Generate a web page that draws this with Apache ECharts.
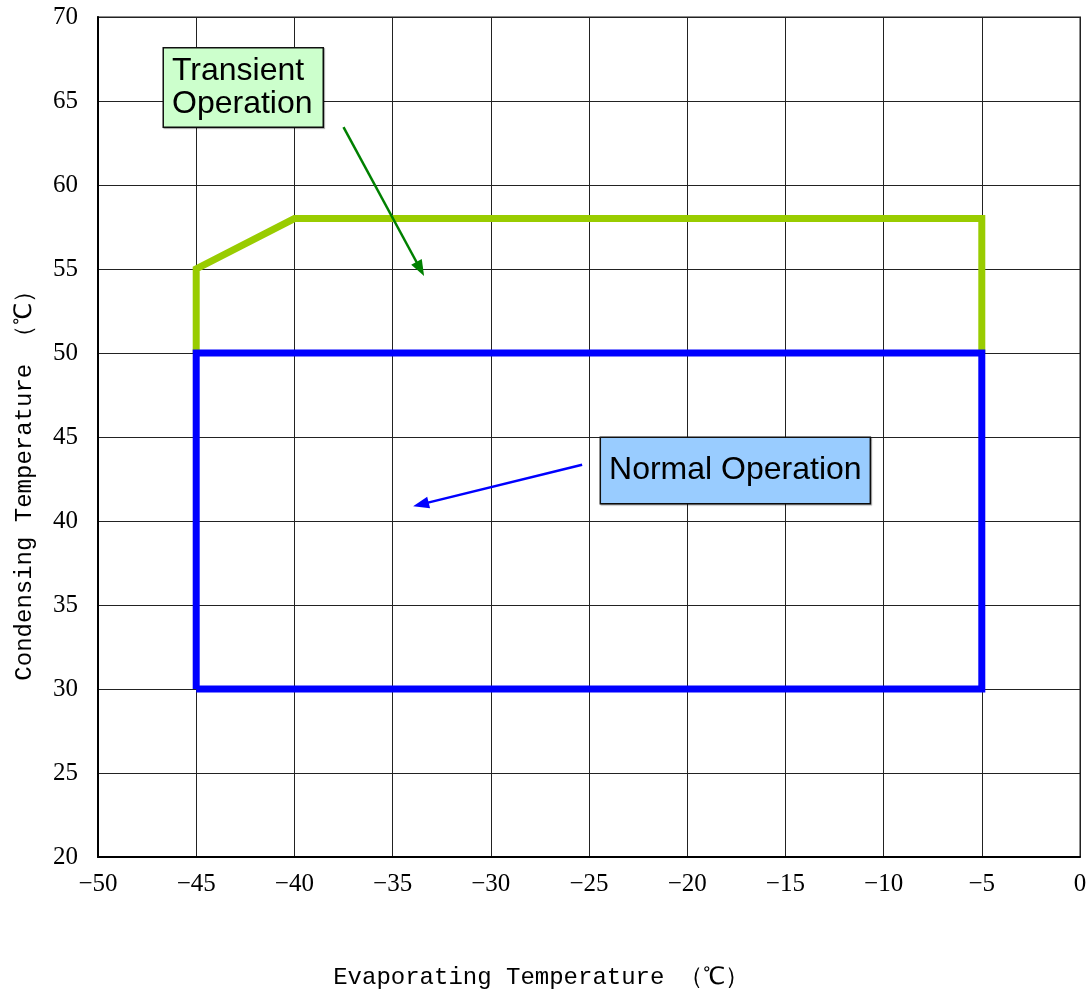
<!DOCTYPE html>
<html>
<head>
<meta charset="utf-8">
<script src="https://cdn.jsdelivr.net/npm/echarts@6/dist/echarts.min.js"></script>
<style>html,body{margin:0;padding:0;background:#fff}#c{width:1090px;height:993px}</style>
</head>
<body>
<div id="c"></div>
<script>
// Data
var xTicks = [-50, -45, -40, -35, -30, -25, -20, -15, -10, -5, 0];
var yTicks = [20, 25, 30, 35, 40, 45, 50, 55, 60, 65, 70];
var transientX = [-45, -45, -40, -5, -5];
var transientY = [50, 55, 58, 58, 50];
var normalX = [-45, -45, -5, -5, -45];
var normalY = [30, 50, 50, 30, 30];
var transientLabelPos = [-46.64, 65.8];
var normalLabelPos = [-17.55, 43.0];
var transientArrow = [[-37.5, 63.45], [-33.59, 55.0]];
var normalArrow = [[-25.35, 43.35], [-33.56, 40.99]];

function zip(xs, ys) { return xs.map(function (x, i) { return [x, ys[i]]; }); }

var chart = echarts.init(document.getElementById('c'), null, {renderer: 'canvas'});
chart.setOption({
  animation: false,
  backgroundColor: '#fff',
  grid: {left: 98, right: 10, top: 17, bottom: 136, containLabel: false, outerBoundsMode: 'none',
    show: true, borderColor: '#8c8c8c', borderWidth: 2, backgroundColor: 'transparent'},
  xAxis: {
    type: 'value', min: -50, max: 0, interval: 5,
    name: 'Evaporating Temperature （℃）', nameLocation: 'middle', nameGap: 109,
    nameTextStyle: {fontFamily: 'Liberation Mono', fontSize: 24, color: '#000', padding: [0, 96, 0, 0]},
    axisLine: {show: true, onZero: false, lineStyle: {color: '#000', width: 2}},
    axisTick: {show: false},
    axisLabel: {fontFamily: 'Liberation Serif', fontSize: 25, color: '#000', margin: 15,
      formatter: function (v) { return v < 0 ? '\u2212' + Math.abs(v) : String(v); }},
    splitLine: {show: true, lineStyle: {color: '#222', width: 1}}
  },
  yAxis: {
    type: 'value', min: 20, max: 70, interval: 5,
    name: 'Condensing Temperature （℃）', nameLocation: 'middle', nameGap: 61, nameRotate: 90,
    nameTextStyle: {fontFamily: 'Liberation Mono', fontSize: 24, color: '#000', padding: [0, 86, 0, 0]},
    axisLine: {show: true, onZero: false, lineStyle: {color: '#000', width: 2}},
    axisTick: {show: false},
    axisLabel: {fontFamily: 'Liberation Serif', fontSize: 25, color: '#000', margin: 20},
    splitLine: {show: true, lineStyle: {color: '#222', width: 1}}
  },
  series: [
    {
      type: 'line', data: zip(transientX, transientY), showSymbol: false, symbol: 'none',
      lineStyle: {color: '#99cc00', width: 7, join: 'miter'}, z: 3
    },
    {
      type: 'line', data: zip(normalX, normalY), showSymbol: false, symbol: 'none',
      lineStyle: {color: '#0000ff', width: 7, join: 'miter'}, z: 4
    },
    {
      type: 'line', data: [], z: 5,
      markLine: {
        silent: true, symbol: ['none', 'triangle'], symbolSize: [12, 16],
        label: {show: false},
        data: [
          [{coord: transientArrow[0], lineStyle: {color: '#008000', width: 2.5, type: 'solid'}, itemStyle: {color: '#008000'}}, {coord: transientArrow[1]}],
          [{coord: normalArrow[0], lineStyle: {color: '#0000ff', width: 2.5, type: 'solid'}, itemStyle: {color: '#0000ff'}}, {coord: normalArrow[1]}]
        ]
      }
    },
    {
      type: 'scatter', symbolSize: 0, z: 10, silent: true,
      itemStyle: {opacity: 1},
      data: [
        {value: transientLabelPos, label: {show: true, position: 'inside', formatter: 'Transient\nOperation', align: 'left',
          fontFamily: 'Liberation Sans', fontSize: 32, lineHeight: 33, color: '#000', opacity: 1,
          backgroundColor: '#ccffcc', borderColor: '#111', borderWidth: 1.5, padding: [6, 10, 6, 8],
          shadowColor: 'rgba(0,0,0,0.35)', shadowOffsetX: 1, shadowOffsetY: 1, shadowBlur: 1}},
        {value: normalLabelPos, label: {show: true, position: 'inside', formatter: 'Normal Operation',
          fontFamily: 'Liberation Sans', fontSize: 32, lineHeight: 33, color: '#000', opacity: 1,
          backgroundColor: '#99ccff', borderColor: '#111', borderWidth: 1.5, padding: [16, 8, 16, 8],
          shadowColor: 'rgba(0,0,0,0.35)', shadowOffsetX: 1, shadowOffsetY: 1, shadowBlur: 1}}
      ]
    }
  ]
});
</script>
</body>
</html>
